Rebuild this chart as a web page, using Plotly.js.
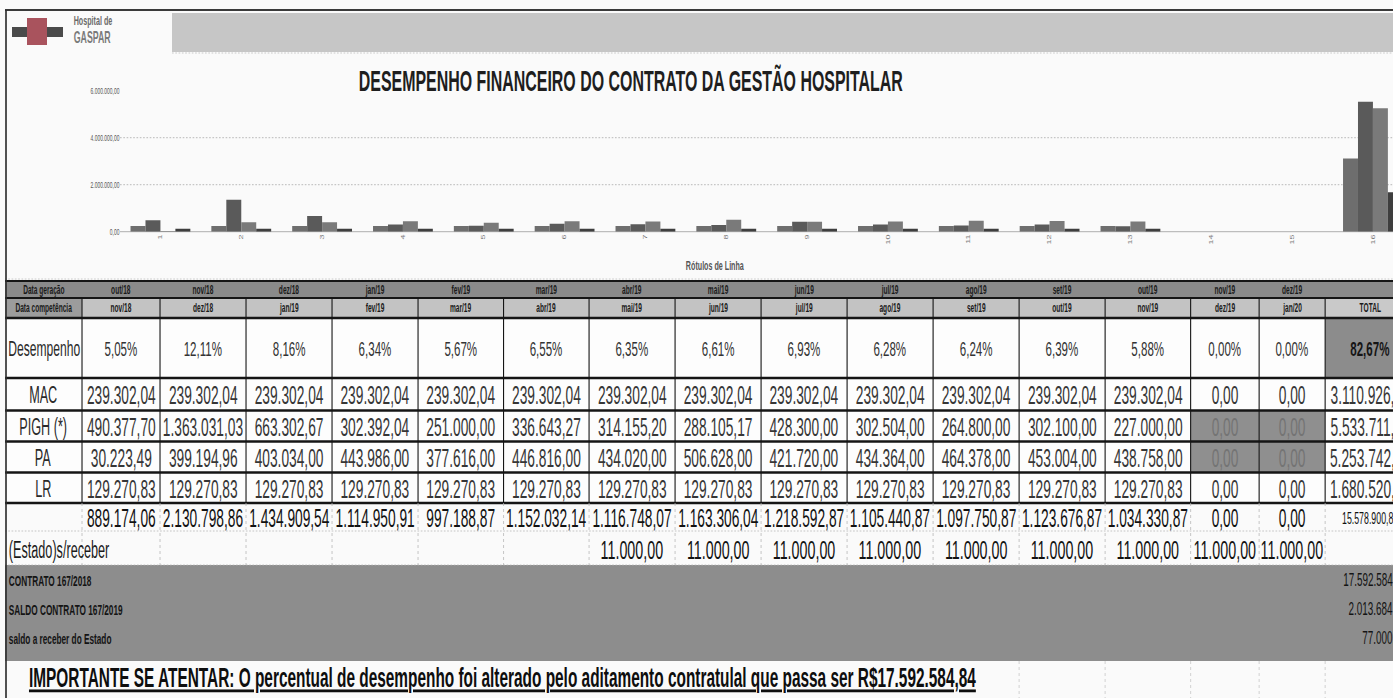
<!DOCTYPE html>
<html>
<head>
<meta charset="utf-8">
<script src="https://cdn.plot.ly/plotly-3.0.1.min.js"></script>
<style>
html,body{margin:0;padding:0;overflow:hidden;background:#fafafa;width:1393px;height:698px}
#wrap{width:1393px;height:698px;overflow:hidden;position:relative}
#chart{position:absolute;left:0;top:0;transform-origin:0 0}
</style>
</head>
<body>
<div id="wrap"><div id="chart"></div></div>
<script>
// ---------------- DATA ----------------
const chartCategories = ['1','2','3','4','5','6','7','8','9','10','11','12','13','14','15','16'];
const seriesNames = ['MAC','PIGH (*)','PA','LR'];
const monthsGeracao = ['out/18','nov/18','dez/18','jan/19','fev/19','mar/19','abr/19','mai/19','jun/19','jul/19','ago/19','set/19','out/19','nov/19','dez/19'];
const monthsCompetencia = ['nov/18','dez/18','jan/19','fev/19','mar/19','abr/19','mai/19','jun/19','jul/19','ago/19','set/19','out/19','nov/19','dez/19','jan/20'];
const desempenho = [5.05,12.11,8.16,6.34,5.67,6.55,6.35,6.61,6.93,6.28,6.24,6.39,5.88,0.00,0.00];
const desempenhoTotal = 82.67;
const mac  = [239302.04,239302.04,239302.04,239302.04,239302.04,239302.04,239302.04,239302.04,239302.04,239302.04,239302.04,239302.04,239302.04,0,0];
const pigh = [490377.70,1363031.03,663302.67,302392.04,251000.00,336643.27,314155.20,288105.17,428300.00,302504.00,264800.00,302100.00,227000.00,0,0];
const pa   = [30223.49,399194.96,403034.00,443986.00,377616.00,446816.00,434020.00,506628.00,421720.00,434364.00,464378.00,453004.00,438758.00,0,0];
const lr   = [129270.83,129270.83,129270.83,129270.83,129270.83,129270.83,129270.83,129270.83,129270.83,129270.83,129270.83,129270.83,129270.83,0,0];
const seriesTotals = [3110926.52,5533711.08,5253742.45,1680520.79];
const monthTotals = [889174.06,2130798.86,1434909.54,1114950.91,997188.87,1152032.14,1116748.07,1163306.04,1218592.87,1105440.87,1097750.87,1123676.87,1034330.87,0,0];
const grandTotal = 15578900.84;
const estadoReceber = [null,null,null,null,null,null,11000,11000,11000,11000,11000,11000,11000,11000,11000];
const resumoLabels = ['CONTRATO 167/2018','SALDO CONTRATO 167/2019','saldo a receber do Estado'];
const resumoValues = [17592584.84,2013684.00,77000.00];
const yTickVals = [0,2000000,4000000,6000000];
const yTickText = ['0,00','2.000.000,00','4.000.000,00','6.000.000,00'];
const chartTitle = 'DESEMPENHO FINANCEIRO DO CONTRATO DA GESTÃO HOSPITALAR';
const xAxisLabel = 'Rótulos de Linha';
const headerLabels = ['Data geração','Data competência','TOTAL','Desempenho','(Estado)s/receber'];
const notaImportante = 'IMPORTANTE SE ATENTAR: O percentual de desempenho foi alterado pelo aditamento contratulal que passa ser R$17.592.584,84';

// ---------------- HELPERS ----------------
const PW = 1393, PH = 698, S = 0.55;
const W = Math.round(PW / S);
const FONT = 'Liberation Sans, Arial, sans-serif';
const fx = x => x / PW;
const fy = y => 1 - y / PH;
function fmtBR(v, d) {
  if (d === undefined) d = 2;
  const s = Math.abs(v).toFixed(d);
  let parts = s.split('.');
  let i = parts[0].replace(/\B(?=(\d{3})+(?!\d))/g, '.');
  return (v < 0 ? '-' : '') + i + (parts[1] ? ',' + parts[1] : '');
}
const shapes = [], annotations = [];
function rect(x0, y0, x1, y1, fill) {
  shapes.push({type:'rect', xref:'paper', yref:'paper', x0:fx(x0), x1:fx(x1), y0:fy(y1), y1:fy(y0),
    fillcolor:fill, line:{width:0}, layer:'below'});
}
function seg(x0, y0, x1, y1, color, width, dash) {
  shapes.push({type:'line', xref:'paper', yref:'paper', x0:fx(x0), x1:fx(x1), y0:fy(y0), y1:fy(y1),
    line:{color:color, width:width, dash:dash || 'solid'}, layer:'above'});
}
function txt(s, x, y, size, o) {
  o = o || {};
  annotations.push({text:s, xref:'paper', yref:'paper', x:fx(x), y:fy(y),
    xanchor:o.anchor || 'center', yanchor:'middle', showarrow:false, borderpad:0,
    font:{family:o.family || FONT, size:size, color:o.color || '#2a2a2a',
      weight:o.bold ? 700 : 400, lineposition:o.under ? 'under' : 'none'}});
}

// ---------------- LAYOUT GEOMETRY ----------------
const colEdges = [5, 82, 160, 246, 332, 418, 503.5, 589, 675, 761, 847, 933, 1019, 1105, 1190.5, 1259, 1325, 1415];
const rows = {r1:[281,298], r2:[298,318], des:[318,378], s0:[378,410.5], s1:[410.5,441.5], s2:[441.5,472.5], s3:[472.5,503], tot:[503,531], est:[531,565]};
const mid = r => (r[0] + r[1]) / 2;
const colMid = i => (colEdges[i] + colEdges[i + 1]) / 2; // i=0 label, 1..15 months, 16 total

// header band and logo
rect(172, 13, 1393, 52, '#c6c6c6');
rect(12, 27, 63, 37, '#4a4a4a');
rect(27, 18, 47, 45, '#a9535d');
txt('Hospital de', 73, 20, 13, {anchor:'left', bold:true, color:'#6a6a6a'});
txt('GASPAR', 73, 37, 16, {anchor:'left', bold:true, color:'#7a7a7a'});
seg(172, 53, 1393, 53, '#bbbbbb', 1, 'dot');

// chart title / axis label
txt(chartTitle, 631, 80, 29, {bold:true, color:'#1e1e1e'});
txt(xAxisLabel, 715, 265, 13, {bold:true, color:'#555'});
seg(5, 279, 1393, 279, '#bdbdbd', 1, 'dot');

// table row 1 (geração) band
rect(5, 281, 1393, 298, '#8a8a8a');
// row 2
rect(5, 298, colEdges[1], 318, '#9c9c9c');
for (let i = 1; i <= 15; i++) rect(colEdges[i], 298, colEdges[i + 1], 318, '#c3c3c3');
rect(colEdges[16], 298, colEdges[17], 318, '#c9c9c9');
// desempenho white cells + total grey
rect(5, 318, 1393, 503, '#fdfdfd');
rect(colEdges[16], 318, colEdges[17], 378, '#8c8c8c');
// grey zero cells (PIGH, PA in last two months)
for (let r = 1; r <= 2; r++) {
  const rr = rows['s' + r];
  for (let i = 14; i <= 15; i++) rect(colEdges[i], rr[0], colEdges[i + 1], rr[1], '#8f8f8f');
}
// summary band
rect(5, 565, 1393, 661, '#8d8d8d');

// grid lines (solid part of the table)
[281, 298, 318, 378, 410.5, 441.5, 472.5, 503].forEach(y => seg(5, y, 1393, y, '#151515', y === 281 || y === 298 ? 2 : 2.5));
for (let i = 1; i < colEdges.length; i++) seg(colEdges[i], 298, colEdges[i], 503, '#151515', 2);
// dotted grid for total / estado rows
[531, 565].forEach(y => seg(5, y, 1393, y, '#b5b5b5', 1, 'dot'));
for (let i = 1; i < colEdges.length; i++) seg(colEdges[i], 503, colEdges[i], 565, '#b5b5b5', 1, 'dot');
for (let i = 12; i < colEdges.length; i++) seg(colEdges[i], 661, colEdges[i], 698, '#c5c5c5', 1, 'dot');

// frame
seg(5, 10, 1393, 10, '#3a3a3a', 2);
seg(6, 10, 6, 698, '#2e2e2e', 3);

// header texts
txt(headerLabels[0], colMid(0), mid(rows.r1), 12, {bold:true, color:'#1a1a1a'});
txt(headerLabels[1], colMid(0), mid(rows.r2), 12, {bold:true, color:'#1a1a1a'});
monthsGeracao.forEach((m, i) => txt(m, colMid(i + 1), mid(rows.r1), 12, {bold:true, color:'#1a1a1a'}));
monthsCompetencia.forEach((m, i) => txt(m, colMid(i + 1), mid(rows.r2), 12, {bold:true, color:'#1a1a1a'}));
txt(headerLabels[2], colMid(16), mid(rows.r2), 12, {bold:true, color:'#1a1a1a'});

// desempenho row
txt(headerLabels[3], colMid(0) + 1, mid(rows.des), 22, {color:'#2a2a2a'});
desempenho.forEach((v, i) => txt(fmtBR(v) + '%', colMid(i + 1), mid(rows.des), 21, {color:'#333'}));
txt(fmtBR(desempenhoTotal) + '%', colMid(16), mid(rows.des), 21, {bold:true, color:'#151515'});

// series rows
const seriesData = [mac, pigh, pa, lr];
seriesData.forEach((arr, s) => {
  const rr = rows['s' + s];
  txt(seriesNames[s], 43, mid(rr) + 1, 23, {color:'#2a2a2a'});
  arr.forEach((v, i) => {
    const grey = (s === 1 || s === 2) && i >= 13;
    txt(fmtBR(v), colMid(i + 1), mid(rr) + 1, 25, {color: grey ? '#747474' : '#363636'});
  });
  txt(fmtBR(seriesTotals[s]), colMid(16), mid(rr) + 1, 25, {color:'#363636'});
});

// total row
monthTotals.forEach((v, i) => txt(fmtBR(v), colMid(i + 1), mid(rows.tot) + 1, 25, {color:'#121212'}));
txt(fmtBR(grandTotal), colMid(16), mid(rows.tot) + 1, 16, {color:'#121212'});

// estado row
txt(headerLabels[4], 8, mid(rows.est) + 2, 23, {anchor:'left', color:'#1a1a1a'});
estadoReceber.forEach((v, i) => { if (v !== null) txt(fmtBR(v), colMid(i + 1), mid(rows.est) + 2, 26, {color:'#121212'}); });

// summary band
const resumoY = [580, 609, 638];
resumoLabels.forEach((l, k) => {
  txt(l, 8, resumoY[k], 15, {anchor:'left', bold:true, color:'#141414'});
  txt(fmtBR(resumoValues[k]), 1407, resumoY[k], 18, {anchor:'right', color:'#141414'});
});

// note
txt(notaImportante, 28, 677, 28, {anchor:'left', bold:true, under:true, color:'#0e0e0e'});

// ---------------- CHART ----------------
const barColors = ['#6e6e6e', '#5a5a5a', '#7a7a7a', '#3e3e3e'];
const traces = seriesData.map((arr, s) => ({
  type:'bar', name:seriesNames[s], x:chartCategories, y:arr.concat([seriesTotals[s]]),
  marker:{color:barColors[s], line:{width:0}}, hoverinfo:'skip'
}));

const layout = {
  width: W, height: PH,
  margin:{l:0, r:0, t:0, b:0, pad:0},
  paper_bgcolor:'#fafafa', plot_bgcolor:'rgba(0,0,0,0)',
  showlegend:false,
  barmode:'group', bargap:0.26, bargroupgap:0,
  xaxis:{type:'category', categoryorder:'array', categoryarray:chartCategories,
    domain:[fx(120), 1], range:[-0.5, 15.25], anchor:'y',
    tickangle:-90, tickfont:{family:FONT, size:9, color:'#777'},
    showgrid:false, zeroline:false, showline:false, ticks:'', automargin:false, fixedrange:true},
  yaxis:{domain:[fy(231.7), fy(90.7)], range:[0, 6000000], anchor:'x',
    tickvals:yTickVals, ticktext:yTickText, tickfont:{family:FONT, size:9, color:'#555'},
    showgrid:true, gridcolor:'#a8a8a8', griddash:'dot', gridwidth:1,
    zeroline:true, zerolinecolor:'#9a9a9a', zerolinewidth:1,
    showline:false, ticks:'', automargin:false, fixedrange:true},
  shapes: shapes,
  annotations: annotations
};

const el = document.getElementById('chart');
el.style.width = W + 'px';
el.style.height = PH + 'px';
el.style.transform = 'scaleX(' + S + ')';
Plotly.newPlot(el, traces, layout, {staticPlot:true, displayModeBar:false});
</script>
</body>
</html>
